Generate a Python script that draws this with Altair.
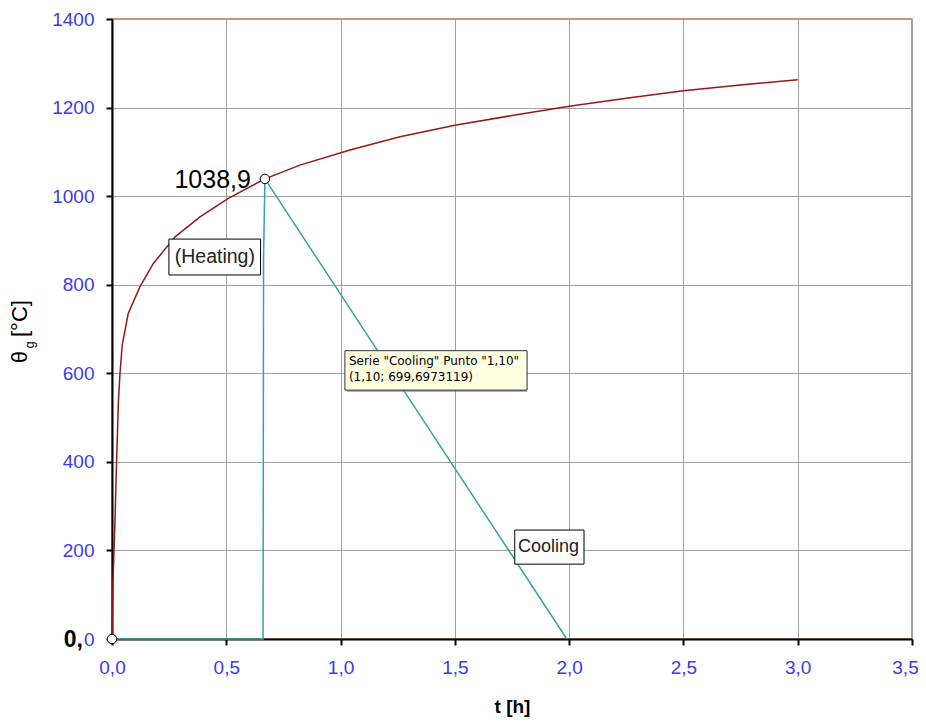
import altair as alt
import pandas as pd

# Heating curve
heat_t = [0, 0.004, 0.012, 0.02, 0.028, 0.035, 0.045, 0.071, 0.122, 0.181, 0.276, 0.385,
          0.509, 0.669, 0.822, 1.041, 1.26, 1.5, 1.75, 2.0, 2.25, 2.5, 2.75, 3.0]
heat_v = [0, 125, 250, 400, 535, 600, 665, 735, 795, 848, 908, 953,
          995, 1038.9, 1070, 1104, 1134, 1160, 1182, 1203, 1221, 1238, 1251, 1263]

# Cooling curve
cool_t = [0, 0.661, 0.663, 0.669, 1.10, 1.99]
cool_v = [0, 0, 860, 1038.9, 699.6973119, 0]

# Marked points
pt_t = [0, 0.669]
pt_v = [0, 1038.9]
pt_lab = ["0,", "1038,9"]

# Boxed annotations
ann_text = ["(Heating)", "Cooling"]
ann_size = [19.5, 18]
ann_t = [0.45, 1.91]
ann_v = [862, 207]
ann_t1 = [0.249, 1.762]
ann_t2 = [0.650, 2.065]
ann_v1 = [822, 169]
ann_v2 = [903, 246]

# Tooltip
tip_lines = ['Serie "Cooling" Punto "1,10"', '(1,10; 699,6973119)']
tip_t1, tip_t2, tip_v1, tip_v2 = 1.019, 1.816, 562, 651

heat = pd.DataFrame({"t": heat_t, "v": heat_v, "i": range(len(heat_t))})
cool = pd.DataFrame({"t": cool_t, "v": cool_v, "i": range(len(cool_t))})
pts = pd.DataFrame({"t": pt_t, "v": pt_v, "lab": pt_lab})
ann = pd.DataFrame({"txt": ann_text, "fs": ann_size, "t": ann_t, "v": ann_v,
                    "t1": ann_t1, "t2": ann_t2, "v1": ann_v1, "v2": ann_v2})
tip = pd.DataFrame({"t1": [tip_t1], "t2": [tip_t2], "v1": [tip_v1], "v2": [tip_v2],
                    "l1": [tip_lines[0]], "l2": [tip_lines[1]]})

FONT = "Liberation Sans"
BLUE = "#3a3af0"

xs = alt.Scale(domain=[0, 3.5], nice=False, zero=False)
ys = alt.Scale(domain=[0, 1400], nice=False)

xax = alt.Axis(values=[0, 0.5, 1, 1.5, 2, 2.5, 3, 3.5], title="t [h]",
               labelExpr="replace(format(datum.value, '.1f'), '.', ',')",
               labelFlush=False,
               labelOffset={"condition": {"test": "datum.value >= 3.5", "value": -7}, "value": 0},
               labelColor=BLUE, labelFont=FONT, labelFontSize=19, labelPadding=13,
               titleFont=FONT, titleFontSize=19, titleFontWeight="bold", titlePadding=20,
               titleColor="black", domainColor="black", domainWidth=2,
               tickColor="black", tickWidth=2, tickSize=6,
               gridColor="#a0a0a0", gridWidth=1)
yax = alt.Axis(values=list(range(0, 1401, 200)), title=None, format="d",
               labelFlush=False,
               labelColor=BLUE, labelFont=FONT, labelFontSize=19, labelPadding=12,
               domainColor="black", domainWidth=2,
               tickColor="black", tickWidth=2, tickSize=6,
               gridColor="#a0a0a0", gridWidth=1)

base_x = alt.X("t:Q", scale=xs, axis=xax)
base_y = alt.Y("v:Q", scale=ys, axis=yax)

heat_line = alt.Chart(heat).mark_line(color="#951818", strokeWidth=1.5).encode(
    x=base_x, y=base_y, order="i:Q")
cool_line = alt.Chart(cool).mark_line(color="#35a3a3", strokeWidth=1.5).encode(
    x=alt.X("t:Q", scale=xs), y=alt.Y("v:Q", scale=ys), order="i:Q")

points = alt.Chart(pts).mark_point(shape="circle", filled=True, fill="white",
                                   stroke="black", strokeWidth=1, size=90, opacity=1).encode(
    x=alt.X("t:Q", scale=xs), y=alt.Y("v:Q", scale=ys))
top_text = alt.Chart(pts).transform_filter("datum.v > 0").mark_text(
    align="right", baseline="middle", dx=-14, dy=1,
    font=FONT, fontSize=25, color="black").encode(
    x=alt.X("t:Q", scale=xs), y=alt.Y("v:Q", scale=ys), text="lab:N")
orig_text = alt.Chart(pts).transform_filter("datum.v == 0").mark_text(
    align="right", baseline="middle", dx=-29, dy=1,
    font=FONT, fontSize=23, fontWeight="bold", color="black").encode(
    x=alt.X("t:Q", scale=xs), y=alt.Y("v:Q", scale=ys), text="lab:N")

ann_box = alt.Chart(ann).mark_rect(fill="white", stroke="black", strokeWidth=1).encode(
    x=alt.X("t1:Q", scale=xs), x2="t2:Q", y=alt.Y("v1:Q", scale=ys), y2="v2:Q")
ann_txt = alt.Chart(ann).mark_text(font=FONT, color="#222222",
                                   baseline="middle", align="center").encode(
    x=alt.X("t:Q", scale=xs), y=alt.Y("v:Q", scale=ys), text="txt:N",
    size=alt.Size("fs:Q", scale=None, legend=None))

tip_shadow = alt.Chart(tip).mark_rect(fill="#808080", opacity=0.6).encode(
    x=alt.X("t1:Q", scale=xs), x2="t2:Q", y=alt.Y("v1:Q", scale=ys), y2="v2:Q",
    xOffset=alt.value(2), yOffset=alt.value(2))
tip_box = alt.Chart(tip).mark_rect(fill="#ffffe1", stroke="#333333", strokeWidth=1).encode(
    x=alt.X("t1:Q", scale=xs), x2="t2:Q", y=alt.Y("v1:Q", scale=ys), y2="v2:Q")
tip_t1_ = alt.Chart(tip).mark_text(font="DejaVu Sans", fontSize=12, color="black",
                                   align="left", baseline="top", dx=4, dy=5).encode(
    x=alt.X("t1:Q", scale=xs), y=alt.Y("v2:Q", scale=ys), text="l1:N")
tip_t2_ = alt.Chart(tip).mark_text(font="DejaVu Sans", fontSize=12, color="black",
                                   align="left", baseline="top", dx=4, dy=21).encode(
    x=alt.X("t1:Q", scale=xs), y=alt.Y("v2:Q", scale=ys), text="l2:N")

# y axis title: theta with subscript g, rotated
ytitle_df = pd.DataFrame({"a": [0]})
yt1 = alt.Chart(ytitle_df).mark_text(text="θ", angle=270, font=FONT, fontSize=22,
                                     align="center", baseline="middle", color="black").encode(
    x=alt.value(-92), y=alt.value(338))
yt2 = alt.Chart(ytitle_df).mark_text(text="g", angle=270, font=FONT, fontSize=13,
                                     align="center", baseline="middle", color="black").encode(
    x=alt.value(-82), y=alt.value(326))
yt3 = alt.Chart(ytitle_df).mark_text(text="[°C]", angle=270, font=FONT, fontSize=22,
                                     align="left", baseline="middle", color="black").encode(
    x=alt.value(-92), y=alt.value(318))

chart = alt.layer(heat_line, cool_line, ann_box, ann_txt, tip_shadow, tip_box,
                  tip_t1_, tip_t2_, points, top_text, orig_text, yt1, yt2, yt3).properties(
    width=800, height=620,
    padding={"left": 104, "top": 11, "right": 6, "bottom": 80},
    autosize=alt.AutoSizeParams(type="none"),
    background="white",
).configure_view(stroke="#c0704a", strokeWidth=1.5)

chart.save("out.html", embed_options={"renderer": "svg", "actions": False})
